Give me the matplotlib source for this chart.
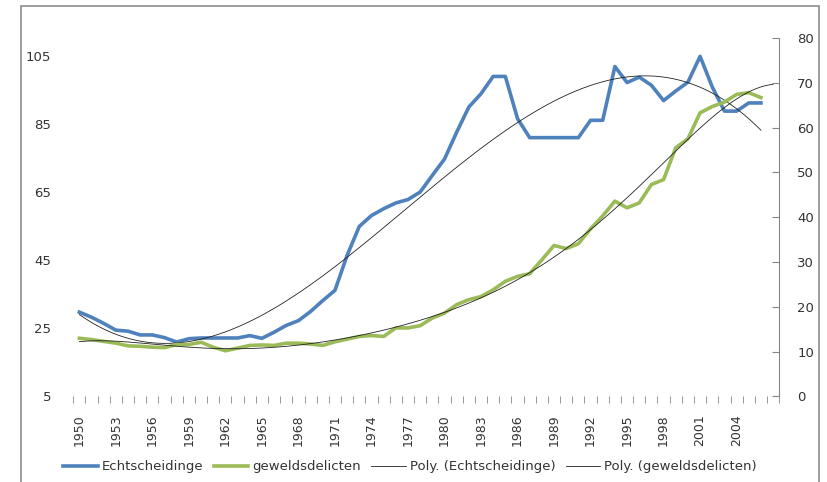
import numpy as np
import matplotlib
matplotlib.use("Agg")
import matplotlib.pyplot as plt
from matplotlib.patches import Rectangle

years = list(range(1950, 2007))

echtscheidinge = [29.8, 28.3, 26.5, 24.5, 24.2, 23.1, 23.1, 22.3, 21.0, 22.0,
                  22.2, 22.2, 22.2, 22.2, 22.9, 22.1, 23.9, 25.9, 27.3, 30.0,
                  33.2, 36.2, 46.5, 55.0, 58.2, 60.2, 61.9, 62.9, 65.1, 70.0,
                  74.8, 82.7, 90.1, 94.0, 99.1, 99.1, 86.7, 81.1, 81.1, 81.1,
                  81.1, 81.1, 86.2, 86.2, 102.0, 97.3, 98.9, 96.5, 92.0, 94.8,
                  97.4, 105.0, 96.0, 88.9, 88.9, 91.3, 91.3]

geweldsdelicten = [13.0, 12.7, 12.3, 11.9, 11.3, 11.2, 11.0, 10.9, 11.6, 11.6,
                   12.1, 11.0, 10.2, 10.8, 11.4, 11.5, 11.4, 11.9, 11.9, 11.7,
                   11.4, 12.2, 12.8, 13.4, 13.6, 13.4, 15.3, 15.3, 15.8, 17.5,
                   18.6, 20.5, 21.6, 22.3, 23.8, 25.7, 26.8, 27.4, 30.5, 33.7,
                   33.0, 34.1, 37.4, 40.3, 43.6, 42.1, 43.2, 47.3, 48.4, 55.5,
                   57.5, 63.3, 64.7, 65.7, 67.4, 67.8, 66.7]

left_ticks = [5, 25, 45, 65, 85, 105]
right_ticks = [0, 10, 20, 30, 40, 50, 60, 70, 80]
label_years = list(range(1950, 2005, 3))

blue = '#4F81BD'
green = '#9BBB59'
txt = '#333333'

x = np.array(years)
# polynomial trendlines (Excel "Poly.")
p_e = np.polyfit(x - 1950, echtscheidinge, 3)
p_g = np.polyfit(x - 1950, geweldsdelicten, 6)
xe = np.linspace(1950, 2006, 300)
xg = np.linspace(1950, 2007, 300)

fig = plt.figure(figsize=(8.27, 4.82), dpi=100)
ax = fig.add_axes([0.0886, 0.1774, 0.8536, 0.7438])
ax2 = ax.twinx()

l1, = ax.plot(x, echtscheidinge, color=blue, lw=2.6, solid_joinstyle='round')
l3, = ax.plot(xe, np.polyval(p_e, xe - 1950), color='#222222', lw=0.6)
l2, = ax2.plot(x, geweldsdelicten, color=green, lw=2.6, solid_joinstyle='round')
l4, = ax2.plot(xg, np.polyval(p_g, xg - 1950), color='#222222', lw=0.6)

ax.set_xlim(1949.5, 2007.5)
ax.set_ylim(5, 110.4)
ax2.set_ylim(0, 80)

ax.set_yticks(left_ticks)
ax.tick_params(axis='y', length=0, pad=16, labelsize=9.5, labelcolor=txt)
ax2.set_yticks(right_ticks)
ax2.tick_params(axis='y', direction='in', length=5, color='#868686',
                pad=13, labelsize=9.5, labelcolor=txt)

ax.set_xticks(label_years)
ax.set_xticklabels([str(y) for y in label_years], rotation=90)
ax.tick_params(axis='x', length=0, pad=13, labelsize=9, labelcolor=txt)
ax.set_xticks(np.arange(1949.5, 2008, 1), minor=True)
ax.tick_params(axis='x', which='minor', length=5, color='#868686')

for a in (ax, ax2):
    for s in ('top', 'left', 'bottom'):
        a.spines[s].set_visible(False)
ax.spines['right'].set_visible(False)
ax2.spines['right'].set_color('#868686')

fig.legend([l1, l2, l3, l4],
           ['Echtscheidinge', 'geweldsdelicten', 'Poly. (Echtscheidinge)',
            'Poly. (geweldsdelicten)'],
           loc='center', bbox_to_anchor=(410 / 827, 1 - 466.7 / 482), ncol=4,
           frameon=False, fontsize=9.5, handlelength=2.6, handletextpad=0.3,
           columnspacing=0.8, labelcolor=txt)

fig.add_artist(Rectangle((21 / 827, -0.05), 798 / 827, 1.038, fill=False,
                         edgecolor='#8c8c8c', lw=1.2, transform=fig.transFigure))

fig.savefig('out.png', dpi=100)
